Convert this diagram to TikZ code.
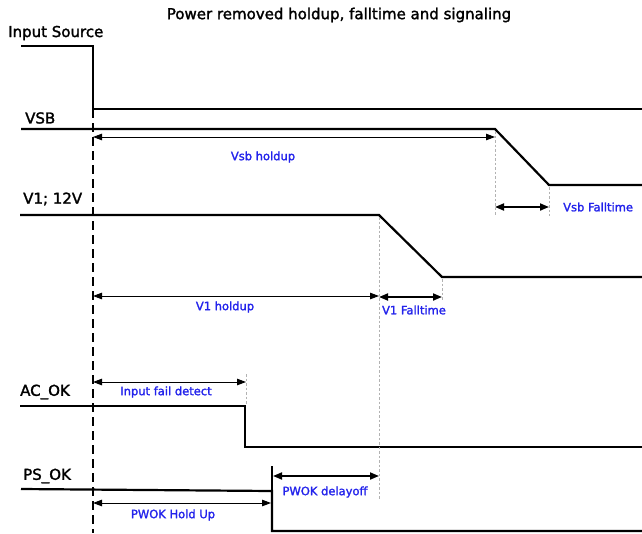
\documentclass[tikz,border=0pt]{standalone}
\usepackage{fontspec}
\setmainfont{DejaVu Sans}
\newfontfamily\lblfont{DejaVu Sans}[FakeBold=1.8]
\usetikzlibrary{arrows.meta}
\definecolor{lblblue}{RGB}{35,35,235}
\begin{document}
\begin{tikzpicture}[x=1pt,y=-1pt,
 sig/.style={line width=2.2pt, line join=miter},
 meas/.style={line width=0.9pt, {Triangle[length=9pt,width=6.5pt]}-{Triangle[length=9pt,width=6.5pt]}},
 measthick/.style={line width=1.8pt, {Triangle[length=9pt,width=7pt]}-{Triangle[length=9pt,width=7pt]}},
 guide/.style={black!30, line width=0.8pt, dash pattern=on 2.5pt off 2pt},
 edgeline/.style={line width=1.5pt, dash pattern=on 9pt off 5pt},
 lab/.style={font=\lblfont\fontsize{15}{18}\selectfont, inner sep=0pt, anchor=west},
 blab/.style={font=\lblfont\fontsize{11.5}{14}\selectfont, text=lblblue, inner sep=0pt}]
\useasboundingbox (0,0) rectangle (642,533);

% title and signal names
\node[font=\lblfont\fontsize{15}{18}\selectfont, inner sep=0pt] (title) at (339,15) {Power removed holdup, falltime and signaling};
\node[lab] (lis) at (8,33) {Input Source};
\node[lab] (lvsb) at (25,118) {VSB};
\node[lab] (lv1) at (23,199) {V1; 12V};
\node[lab] (lac) at (20,392) {AC\_OK};
\node[lab] (lps) at (23,476) {PS\_OK};

% signal coordinates
\coordinate (is0) at (21,46);  \coordinate (is1) at (93,46);
\coordinate (is2) at (93,109); \coordinate (is3) at (642,109);
\coordinate (vs0) at (21,129); \coordinate (vs1) at (495,129);
\coordinate (vs2) at (549,185); \coordinate (vs3) at (642,185);
\coordinate (v10) at (20,215); \coordinate (v11) at (379,215);
\coordinate (v12) at (442,277); \coordinate (v13) at (642,277);
\coordinate (ac0) at (20,406); \coordinate (ac1) at (245,406);
\coordinate (ac2) at (245,447); \coordinate (ac3) at (642,447);
\coordinate (ps0) at (21,489); \coordinate (ps1) at (272,491);
\coordinate (ps2) at (272,531); \coordinate (ps3) at (642,531);
\coordinate (dtop) at (93,109); \coordinate (dbot) at (93,533);

% signals
\draw[sig] (is0) -- (is1) -- (is2) -- (is3);
\draw[sig] (vs0) -- (vs1) -- (vs2) -- (vs3);
\draw[sig] (v10) -- (v11) -- (v12) -- (v13);
\draw[sig] (ac0) -- (ac1) -- (ac2) -- (ac3);
\draw[sig] (ps0) -- (ps1) -- (ps2) -- (ps3);
\draw[edgeline] (dtop) -- (dbot);

% guide lines
\coordinate (g1a) at (495,131); \coordinate (g1b) at (495,216);
\coordinate (g2a) at (549,187); \coordinate (g2b) at (549,216);
\coordinate (g3a) at (379,217); \coordinate (g3b) at (379,500);
\coordinate (g4a) at (442,279); \coordinate (g4b) at (442,300);
\coordinate (g5a) at (246,374); \coordinate (g5b) at (246,404);
\draw[guide] (g1a) -- (g1b);
\draw[guide] (g2a) -- (g2b);
\draw[guide] (g3a) -- (g3b);
\draw[guide] (g4a) -- (g4b);
\draw[guide] (g5a) -- (g5b);

% measurement arrows
\coordinate (m1a) at (93,137);  \coordinate (m1b) at (495,137);
\coordinate (m2a) at (495,207); \coordinate (m2b) at (549,207);
\coordinate (m3a) at (93,296);  \coordinate (m3b) at (379,296);
\coordinate (m4a) at (379,297); \coordinate (m4b) at (442,297);
\coordinate (m5a) at (93,382);  \coordinate (m5b) at (246,382);
\coordinate (m6a) at (93,503);  \coordinate (m6b) at (271,503);
\coordinate (m7a) at (273,476); \coordinate (m7b) at (379,476);
\coordinate (tka) at (272,466); \coordinate (tkb) at (272,490);
\draw[meas] (m1a) -- (m1b);
\draw[measthick] (m2a) -- (m2b);
\draw[meas] (m3a) -- (m3b);
\draw[measthick] (m4a) -- (m4b);
\draw[meas] (m5a) -- (m5b);
\draw[meas] (m6a) -- (m6b);
\draw[measthick] (m7a) -- (m7b);
\draw[line width=1.5pt] (tka) -- (tkb);

% measurement labels
\node[blab] (t1) at (263,157) {Vsb holdup};
\node[blab, anchor=west] (t2) at (563,207) {Vsb Falltime};
\node[blab] (t3) at (225,307) {V1 holdup};
\node[blab] (t4) at (414,310) {V1 Falltime};
\node[blab] (t5) at (166,392) {Input fail detect};
\node[blab] (t6) at (173,515) {PWOK Hold Up};
\node[blab] (t7) at (325,492) {PWOK delayoff};
\end{tikzpicture}
\end{document}
